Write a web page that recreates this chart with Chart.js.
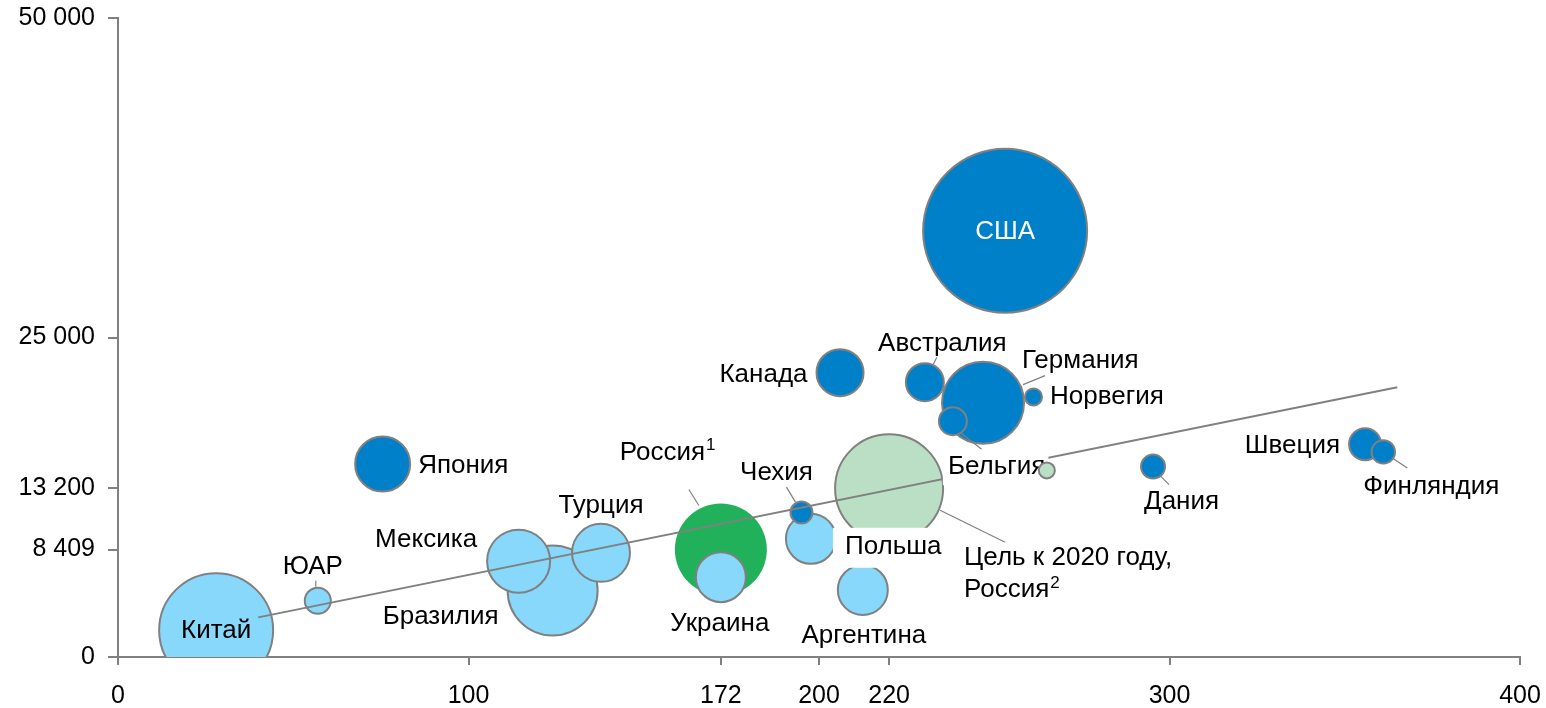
<!DOCTYPE html>
<html>
<head>
<meta charset="utf-8">
<script src="https://cdn.jsdelivr.net/npm/chart.js@4/dist/chart.umd.min.js"></script>
<style>
  html, body { margin: 0; padding: 0; background: #fff; }
  #wrap { width: 1546px; height: 708px; position: relative; }
</style>
</head>
<body>
<div id="wrap"><canvas id="chart"></canvas></div>
<script>
// Countries, in drawing order (later entries sit on top of earlier ones)
const countries = [
  'Китай', 'ЮАР', 'Япония', 'Бразилия', 'Мексика', 'Турция', 'Россия¹', 'Украина',
  'Польша', 'Чехия', 'Аргентина', 'Цель к 2020 году,\nРоссия²', 'Канада', 'Германия',
  'Австралия', 'Бельгия', 'Норвегия', 'США', 'Дания', 'Швеция', 'Финляндия'
];
const xValues = [28, 57, 75.5, 124, 114.3, 137.8, 172, 172, 197.7, 195, 212.5, 220, 206, 246.8,
  230.2, 238.2, 261.2, 253.1, 295.3, 355.8, 361];
const yValues = [2100, 4400, 15100, 5200, 7500, 8150, 8409, 6250, 9250, 11300, 5250, 13200, 22250, 19900,
  21500, 18450, 20350, 33350, 14900, 16650, 16050];
const bubbleSizes = [57, 13, 27.5, 45, 31.5, 29, 46, 25, 25, 11, 25, 54, 23.5, 41,
  19, 14, 8.5, 82, 12, 16, 11.7];
const groups = ['emerging', 'emerging', 'developed', 'emerging', 'emerging', 'emerging', 'russia', 'emerging',
  'emerging', 'developed', 'emerging', 'target', 'developed', 'developed',
  'developed', 'developed', 'developed', 'developed', 'developed', 'developed', 'developed'];

// Trend line end points
const trendX = [40, 365];
const trendY = [3100, 21100];

// Small marker next to the trend line
const markerX = [265];
const markerY = [14600];
const markerSize = [8];

// Axis tick positions
const xTicks = [0, 100, 172, 200, 220, 300, 400];
const yTicks = [0, 8409, 13200, 25000, 50000];

const palette = {
  emerging: '#87D8FB',
  developed: '#0080C8',
  russia: '#21B15A',
  target: '#BBDFC4'
};
const edge = '#808080';
const FONT = '"Liberation Sans", Arial, Helvetica, sans-serif';
const SUPERSCRIPTS = { '¹': '1', '²': '2' };

// Label placement relative to each bubble centre (pixels)
const labelPlacement = {
  'Китай': { align: 'center', dx: 0, dy: 1 },
  'ЮАР': { align: 'center', dx: -5, dy: -34, leader: [-2, -20, -2, -14] },
  'Япония': { align: 'left', dx: 35.5, dy: 2 },
  'Бразилия': { align: 'center', dx: -112, dy: 26 },
  'Мексика': { align: 'center', dx: -92.5, dy: -21 },
  'Турция': { align: 'center', dx: 0, dy: -47 },
  'Россия¹': { align: 'left', dx: -101, dy: -97, leader: [-32, -60, -22, -44] },
  'Украина': { align: 'center', dx: -1, dy: 47 },
  'Польша': { align: 'left', dx: 34, dy: 8, box: [12, 19, 6, 21] },
  'Чехия': { align: 'center', dx: -25, dy: -40, leader: [-15, -25.5, -6, -10.5] },
  'Аргентина': { align: 'center', dx: 1, dy: 46 },
  'Цель к 2020 году,\nРоссия²': { align: 'left', dx: 75, dy: 70, lineGap: 32, leader: [51, 22, 116, 54] },
  'Канада': { align: 'right', dx: -32.5, dy: 2.5 },
  'Германия': { align: 'left', dx: 39, dy: -42, leader: [62, -27, 40, -18] },
  'Австралия': { align: 'center', dx: 17.5, dy: -38, leader: [12, -25, 8, -17] },
  'Бельгия': { align: 'left', dx: -5, dy: 46, leader: [7, 11, 30, 29], box: [5, 18, 3, 18] },
  'Норвегия': { align: 'left', dx: 16.5, dy: 0 },
  'США': { align: 'center', dx: 0, dy: 1, color: '#ffffff' },
  'Дания': { align: 'left', dx: -9, dy: 35, leader: [7, 9, 16, 18] },
  'Швеция': { align: 'right', dx: -25, dy: 1.5 },
  'Финляндия': { align: 'left', dx: -20, dy: 35, leader: [9, 6, 24, 16] }
};

const bubbleData = countries.map((name, i) => ({ x: xValues[i], y: yValues[i], r: bubbleSizes[i] }));
const trendData = trendX.map((x, i) => ({ x, y: trendY[i] }));
const markerData = markerX.map((x, i) => ({ x, y: markerY[i], r: markerSize[i] }));

function spaced(v) {
  return String(v).replace(/\B(?=(\d{3})+(?!\d))/g, ' ');
}

// Splits a trailing footnote mark off a label line
function splitNote(line) {
  const last = line.slice(-1);
  return SUPERSCRIPTS[last] ? [line.slice(0, -1), SUPERSCRIPTS[last]] : [line, ''];
}

// Country labels, leader lines and label backgrounds, drawn just before the last dataset
const countryLabels = {
  id: 'countryLabels',
  beforeDatasetDraw(chart, args) {
    if (args.index !== 2) return;
    const ctx = chart.ctx;
    const pts = chart.getDatasetMeta(0).data;
    const mainFont = '26px ' + FONT;
    const noteFont = '17px ' + FONT;
    ctx.save();
    ctx.textBaseline = 'middle';
    countries.forEach((name, i) => {
      const p = labelPlacement[name];
      if (!p) return;
      const cx = pts[i].x, cy = pts[i].y;
      const lines = name.split('\n').map(splitNote);
      const tx = cx + p.dx, ty = cy + p.dy;
      const widths = lines.map(([t, n]) => {
        ctx.font = mainFont;
        let w = ctx.measureText(t).width;
        if (n) { ctx.font = noteFont; w += ctx.measureText(n).width + 1; }
        return w;
      });
      if (p.leader) {
        ctx.strokeStyle = edge;
        ctx.lineWidth = 1.2;
        ctx.beginPath();
        ctx.moveTo(cx + p.leader[0], cy + p.leader[1]);
        ctx.lineTo(cx + p.leader[2], cy + p.leader[3]);
        ctx.stroke();
      }
      const leftOf = w => p.align === 'center' ? tx - w / 2 : p.align === 'right' ? tx - w : tx;
      if (p.box) {
        const w = Math.max(...widths);
        ctx.fillStyle = '#ffffff';
        ctx.fillRect(leftOf(w) - p.box[0], ty - p.box[1], w + p.box[0] + p.box[2], p.box[1] + p.box[3]);
      }
      ctx.fillStyle = p.color || '#000000';
      ctx.textAlign = 'left';
      lines.forEach(([t, n], k) => {
        const x0 = leftOf(widths[k]);
        const y0 = ty + k * (p.lineGap || 0);
        ctx.font = mainFont;
        ctx.fillText(t, x0, y0);
        if (n) {
          const tw = ctx.measureText(t).width;
          ctx.font = noteFont;
          ctx.fillText(n, x0 + tw + 1, y0 - 7);
        }
      });
    });
    ctx.restore();
  }
};

new Chart(document.getElementById('chart'), {
  type: 'bubble',
  data: {
    datasets: [
      {
        label: 'Страны',
        data: bubbleData,
        order: 3,
        backgroundColor: groups.map(g => palette[g]),
        borderColor: edge,
        borderWidth: groups.map(g => g === 'russia' ? 0 : 2),
        hoverRadius: 0
      },
      {
        type: 'scatter',
        label: 'Тренд',
        data: trendData,
        order: 2,
        showLine: true,
        borderColor: edge,
        borderWidth: 2,
        pointRadius: 0,
        fill: false
      },
      {
        label: 'Маркер',
        data: markerData,
        order: 1,
        backgroundColor: palette.target,
        borderColor: edge,
        borderWidth: 2,
        hoverRadius: 0
      }
    ]
  },
  options: {
    responsive: true,
    maintainAspectRatio: false,
    animation: false,
    events: [],
    layout: { autoPadding: false, padding: { top: 18, right: 26, left: 0, bottom: 0 } },
    plugins: {
      legend: { display: false },
      tooltip: { enabled: false }
    },
    scales: {
      x: {
        type: 'linear',
        min: 0,
        max: 400,
        afterBuildTicks: s => { s.ticks = xTicks.map(v => ({ value: v })); },
        afterFit: s => { s.height = 51; s.paddingLeft = 0; s.paddingRight = 0; },
        border: { display: true, color: edge, width: 2 },
        grid: { display: true, drawOnChartArea: false, drawTicks: true, tickLength: 8, color: edge, lineWidth: 2 },
        ticks: {
          autoSkip: false,
          maxRotation: 0,
          padding: 16,
          color: '#000000',
          font: { family: FONT, size: 25 },
          callback: v => spaced(v)
        }
      },
      y: {
        type: 'linear',
        min: 0,
        max: 50000,
        afterBuildTicks: s => { s.ticks = yTicks.map(v => ({ value: v })); },
        afterFit: s => { s.width = 118; s.paddingTop = 0; s.paddingBottom = 0; },
        border: { display: true, color: edge, width: 2 },
        grid: { display: true, drawOnChartArea: false, drawTicks: true, tickLength: 10, color: edge, lineWidth: 2 },
        ticks: {
          autoSkip: false,
          padding: 13,
          color: '#000000',
          font: { family: FONT, size: 25 },
          callback: v => spaced(v)
        }
      }
    }
  },
  plugins: [countryLabels]
});
</script>
</body>
</html>
